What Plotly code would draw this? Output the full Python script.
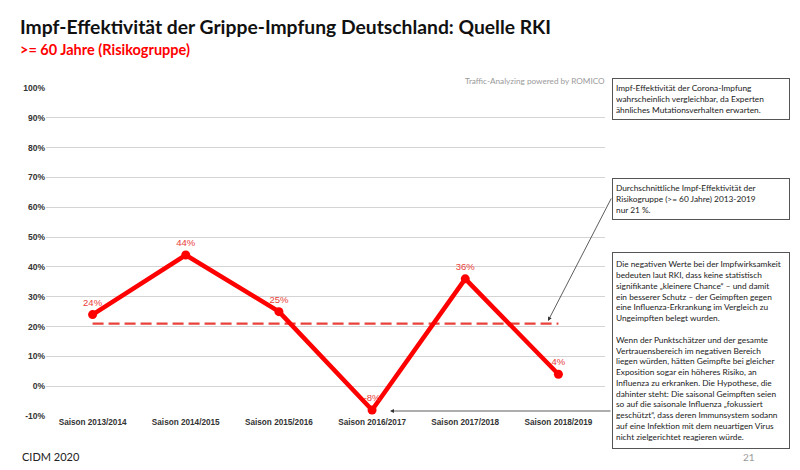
import plotly.graph_objects as go

# ---- data ----
seasons = ["Saison 2013/2014", "Saison 2014/2015", "Saison 2015/2016",
           "Saison 2016/2017", "Saison 2017/2018", "Saison 2018/2019"]
effectiveness_pct = [24, 44, 25, -8, 36, 4]
average_pct = 21
y_tick_vals = [-10, 0, 10, 20, 30, 40, 50, 60, 70, 80, 90, 100]
y_tick_text = ["-10%", "0%", "10%", "20%", "30%", "40%", "50%", "60%", "70%", "80%", "90%", "100%"]

title = "Impf-Effektivität der Grippe-Impfung Deutschland: Quelle RKI"
subtitle = "&gt;= 60 Jahre (Risikogruppe)"
watermark = "Traffic-Analyzing powered by ROMICO"
box1 = ("Impf-Effektivität der Corona-Impfung<br>wahrscheinlich vergleichbar, da Experten<br>"
        "ähnliches Mutationsverhalten erwarten.")
box2 = ("Durchschnittliche Impf-Effektivität der<br>Risikogruppe (&gt;= 60 Jahre) 2013-2019<br>nur 21 %.")
box3 = ("Die negativen Werte bei der Impfwirksamkeit<br>bedeuten laut RKI, dass keine statistisch<br>"
        "signifikante „kleinere Chance“ – und damit<br>ein besserer Schutz – der Geimpften gegen<br>"
        "eine Influenza-Erkrankung im Vergleich zu<br>Ungeimpften belegt wurden.<br><br>"
        "Wenn der Punktschätzer und der gesamte<br>Vertrauensbereich im negativen Bereich<br>"
        "liegen würden, hätten Geimpfte bei gleicher<br>Exposition sogar ein höheres Risiko, an<br>"
        "Influenza zu erkranken. Die Hypothese, die<br>dahinter steht: Die saisonal Geimpften seien<br>"
        "so auf die saisonale Influenza „fokussiert<br>geschützt“, dass deren Immunsystem sodann<br>"
        "auf eine Infektion mit dem neuartigen Virus<br>nicht zielgerichtet reagieren würde.")
footer_left = "CIDM 2020"
page_no = "21"

# ---- layout geometry (pixels) ----
W, H = 800, 470
L, R, T, B = 46, 605, 88, 416


def px(x):
    return (x - L) / (R - L)


def py(y):
    return (B - y) / (B - T)


CAL = "Lato"
ARI = "Liberation Sans"

fig = go.Figure()
fig.add_trace(go.Scatter(
    x=seasons, y=[average_pct / 100] * len(seasons), mode="lines",
    line=dict(color="#e8413a", width=2.2, dash="11px,5px"),
    hoverinfo="skip", showlegend=False))
fig.add_trace(go.Scatter(
    x=seasons, y=[v / 100 for v in effectiveness_pct], mode="lines+markers+text",
    line=dict(color="#ff0000", width=4.5),
    marker=dict(color="#ff0000", size=9),
    text=[f"{v}%" for v in effectiveness_pct], textposition="top center",
    textfont=dict(family=ARI, size=9.5, color="#e8413a"),
    showlegend=False))

annotations = [
    dict(text=f"<b>{title}</b>", x=px(18), y=py(27), xanchor="left", yanchor="middle",
         font=dict(family=CAL, size=19.3, color="#111111")),
    dict(text=f"<b>{subtitle}</b>", x=px(18), y=py(49), xanchor="left", yanchor="middle",
         font=dict(family=CAL, size=14.5, color="#ff0000")),
    dict(text=watermark, x=px(607), y=py(81), xanchor="right", yanchor="middle",
         font=dict(family=CAL, size=8.2, color="#9a9a9a")),
    dict(text=footer_left, x=px(20), y=py(456), xanchor="left", yanchor="middle",
         font=dict(family=CAL, size=11, color="#222222")),
    dict(text=page_no, x=px(741), y=py(457), xanchor="left", yanchor="middle",
         font=dict(family=CAL, size=10, color="#9a9a9a")),
    dict(text=box1, x=px(612), y=py(78), xanchor="left", yanchor="top", align="left",
         valign="middle", width=170, height=34, borderpad=3, bordercolor="#555555",
         borderwidth=1, bgcolor="white", font=dict(family=CAL, size=8.3, color="#1a1a1a")),
    dict(text=box2, x=px(612), y=py(178), xanchor="left", yanchor="top", align="left",
         valign="middle", width=170, height=34, borderpad=3, bordercolor="#555555",
         borderwidth=1, bgcolor="white", font=dict(family=CAL, size=8.3, color="#1a1a1a")),
    dict(text=box3, x=px(612), y=py(252), xanchor="left", yanchor="top", align="left",
         valign="middle", width=170, height=189, borderpad=3, bordercolor="#555555",
         borderwidth=1, bgcolor="white", font=dict(family=CAL, size=8.3, color="#1a1a1a")),
    # arrows
    dict(text="", x=px(548), y=py(321), ax=64, ay=-124, showarrow=True,
         arrowhead=2, arrowsize=1, arrowwidth=0.8, arrowcolor="#333333"),
    dict(text="", x=px(390), y=py(411), ax=222, ay=0, showarrow=True,
         arrowhead=2, arrowsize=1, arrowwidth=0.8, arrowcolor="#333333"),
]
for a in annotations:
    a.setdefault("xref", "paper")
    a.setdefault("yref", "paper")
    a.setdefault("showarrow", False)

fig.update_layout(
    width=W, height=H,
    margin=dict(l=L, r=W - R, t=T, b=H - B, pad=0),
    paper_bgcolor="white", plot_bgcolor="white",
    annotations=annotations,
    xaxis=dict(type="category", range=[-0.5, 5.5], showgrid=False, showline=False,
               zeroline=False, ticks="",
               tickfont=dict(family=ARI, size=8.2, color="#333333", weight="bold")),
    yaxis=dict(range=[-0.1, 1.0], tickvals=[v / 100 for v in y_tick_vals], ticktext=y_tick_text,
               showgrid=True, gridcolor="#d4d4d4", gridwidth=1.3, zeroline=False,
               showline=False, ticks="",
               tickfont=dict(family=ARI, size=8.5, color="#333333", weight="bold")),
)

fig.write_html("out.html", config={"displayModeBar": False},
               post_script="document.body.style.margin='0';")
